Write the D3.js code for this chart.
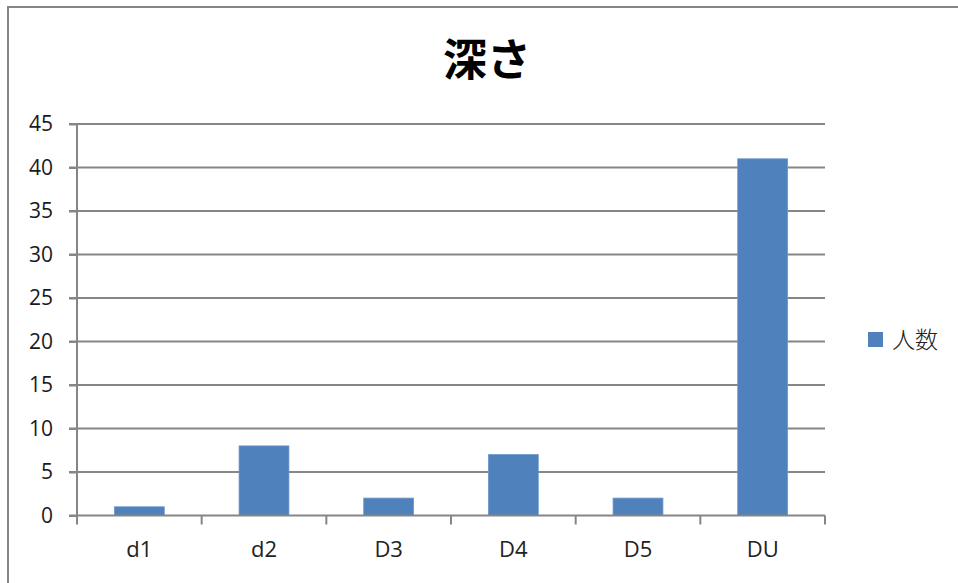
<!DOCTYPE html>
<html><head><meta charset="utf-8">
<script src="https://cdn.jsdelivr.net/npm/d3@7"></script>
<style>
html,body{margin:0;padding:0;background:#fff;}
svg{display:block;}
</style></head>
<body>
<svg id="chart" width="958" height="583"></svg>
<script>
const categories = ["d1","d2","D3","D4","D5","DU"];
const values = [1, 8, 2, 7, 2, 41];
const yTicks = [0,5,10,15,20,25,30,35,40,45];
const seriesName = "人数";
const title = "深さ";

const svg = d3.select("#chart");
const W = 958, H = 583;
const plot = {left: 77, right: 825, top: 124, bottom: 515.5};

// outer border
svg.append("path")
  .attr("d", `M8,${H+5} L8,7 L${W+5},7`)
  .attr("fill","none").attr("stroke","#868686").attr("stroke-width",2);

const x = d3.scaleBand().domain(categories).range([plot.left, plot.right]).paddingInner(0).paddingOuter(0);
const y = d3.scaleLinear().domain([0,45]).range([plot.bottom, plot.top]);

const gridColor = "#868686";
// gridlines
svg.append("g").selectAll("line").data(yTicks.filter(d=>d>0)).join("line")
  .attr("x1", plot.left-8).attr("x2", plot.right)
  .attr("y1", d=>y(d)).attr("y2", d=>y(d))
  .attr("stroke", gridColor).attr("stroke-width", 2);

// bars
const barW = x.step()*0.4;
svg.append("g").selectAll("rect").data(values).join("rect")
  .attr("x", (d,i)=> x(categories[i]) + x.step()/2 - barW/2)
  .attr("y", d=>y(d))
  .attr("width", barW)
  .attr("height", d=> y(0)-y(d))
  .attr("fill", "#4F81BD")
  .attr("stroke", "#6c96cc").attr("stroke-width", 0.8);

// y axis
const yAxis = d3.axisLeft(y).tickValues(yTicks).tickSize(8).tickPadding(16);
const gy = svg.append("g").attr("transform", `translate(${plot.left},0)`).call(yAxis);
gy.select(".domain").attr("stroke", gridColor).attr("stroke-width", 2).attr("d", `M-8,${plot.top}H0V${plot.bottom}`);
gy.selectAll(".tick line").attr("stroke", gridColor).attr("stroke-width", 2);
gy.selectAll(".tick text").attr("font-family","'Open Sans','Liberation Sans',sans-serif")
  .attr("font-size", 21).attr("fill","#1a1a1a");

// x axis
const xAxis = d3.axisBottom(x).tickSize(0).tickPadding(26);
const gx = svg.append("g").attr("transform", `translate(0,${plot.bottom})`).call(xAxis);
gx.select(".domain").attr("stroke", gridColor).attr("stroke-width", 2).attr("d", `M${plot.left-8},0H${plot.right}`);
gx.selectAll(".tick text").attr("font-family","'Open Sans','Liberation Sans',sans-serif")
  .attr("font-size", 22).attr("fill","#222");
// category boundary ticks
const bounds = categories.map(c=>x(c)).concat([plot.right]);
svg.append("g").selectAll("line").data(bounds).join("line")
  .attr("x1", d=>d).attr("x2", d=>d)
  .attr("y1", plot.bottom).attr("y2", plot.bottom+9)
  .attr("stroke", gridColor).attr("stroke-width", 2);

// title
svg.append("text").attr("x", 487).attr("y", 76).attr("text-anchor","middle")
  .attr("font-family","'Noto Sans CJK JP',sans-serif").attr("font-weight","bold")
  .attr("font-size", 44).attr("fill","#000").text(title);

// legend
const lg = svg.append("g").attr("transform","translate(868,332)");
lg.append("rect").attr("width",15).attr("height",15).attr("fill","#4F81BD");
lg.append("text").attr("x",24).attr("y",16).attr("font-family","'Noto Sans CJK JP',sans-serif")
  .attr("font-size",23).attr("font-weight",300).attr("fill","#222").text(seriesName);
</script>
</body></html>
